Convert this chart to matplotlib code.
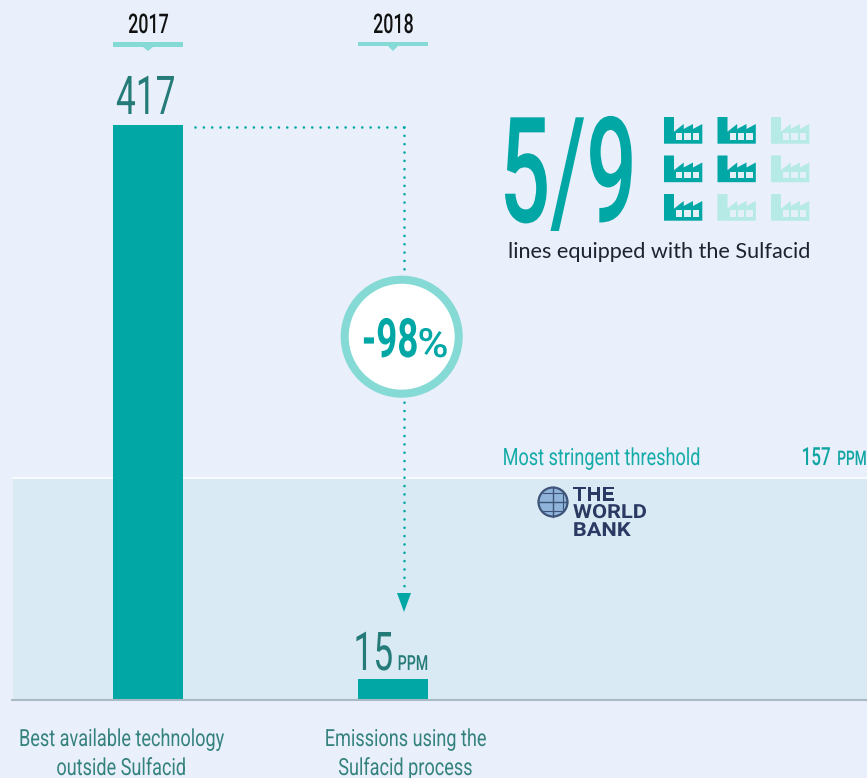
import matplotlib
matplotlib.use('Agg')
import matplotlib.pyplot as plt
import matplotlib.patheffects as pe
from matplotlib.patches import Circle, Polygon, Rectangle
from matplotlib.transforms import Affine2D

# Data
years = ['2017', '2018']
emissions = [417, 15]
bar_labels = ['Best available technology\noutside Sulfacid', 'Emissions using the\nSulfacid process']
threshold_ppm = 157
band_top = 161  # the band sits a little above its label value in the source
reduction = '-98'
lines_equipped = 5
lines_total = 9

# Colours
BG = '#E9EFFB'
BAND = '#DAEAF5'
TEAL = '#00A7A5'
LIGHT = '#85DAD5'
PALE = '#B5EAE6'
DARK = '#257B78'
LABEL = '#34827E'

plt.rcParams['font.family'] = ['Roboto', 'DejaVu Sans']


# No condensed DIN here, so change the glyph width when the text is drawn
class Squeeze(pe.AbstractPathEffect):
    def __init__(self, sx, anchor='center'):
        super().__init__()
        self.sx = sx
        self.anchor = anchor

    def draw_path(self, renderer, gc, tpath, affine, rgbFace=None):
        box = affine.transform_path(tpath).get_extents()
        cx = box.x0 if self.anchor == 'left' else (box.x0 + box.x1) / 2
        squeeze = Affine2D().translate(-cx, 0).scale(self.sx, 1).translate(cx, 0)
        renderer.draw_path(gc, tpath, affine + squeeze, rgbFace)


fig = plt.figure(figsize=(8.67, 7.78), dpi=100, facecolor=BG)

# Bars live on a ppm axis, baseline at pixel 700 and 417 at pixel 125
px_per_ppm = (700 - 125) / emissions[0]
ax = fig.add_axes([0, 0, 1, 1], facecolor=BG)
ax.set_xlim(0, 867)
ax.set_ylim(-(778 - 700) / px_per_ppm, 700 / px_per_ppm)
ax.axis('off')
ax.fill_between([13, 867], 0, band_top, color=BAND, lw=0, zorder=1)
ax.plot([13, 867], [band_top, band_top], color='white', lw=1.1, zorder=2)
ax.bar([148, 393], emissions, width=70, color=TEAL, zorder=3)
ax.plot([12, 867], [0, 0], color='#A9BAC4', lw=1.5, zorder=4)

# Everything else is placed in pixel coordinates of the picture
ov = fig.add_axes([0, 0, 1, 1], facecolor='none')
ov.set_xlim(0, 867)
ov.set_ylim(778, 0)
ov.axis('off')


def label(x, y, s, size, color, sx=0.68, weight='normal'):
    t = ov.text(x, y, s, fontsize=size, color=color, ha='center', va='baseline', fontweight=weight)
    if sx != 1:
        t.set_path_effects([Squeeze(sx)])
    return t


# Year headers with their little tabs
for x, year, y1 in zip([148, 393], years, [47, 46]):
    label(x + 0.5, 33, year, 19.5, '#111111', sx=0.66, weight='medium')
    ov.add_patch(Rectangle((x - 35, 42), 70, y1 - 42, color=LIGHT, lw=0))
    ov.add_patch(Polygon([(x - 5, y1), (x + 5, y1), (x, 51)], color=LIGHT, lw=0))

# Values
label(146, 114, str(emissions[0]), 38.5, DARK, sx=0.66)
label(373, 670, str(emissions[1]), 38.5, DARK, sx=0.66)
label(413, 670, 'PPM', 15, DARK, sx=0.68, weight='medium')

# Bar captions
for x, text in zip([121.5, 405.5], bar_labels):
    first, second = text.split('\n')
    label(x, 746, first, 17, LABEL, sx=0.767)
    label(x, 775, second, 17, LABEL, sx=0.767)

# Dotted route from the tall bar down to the small one
dots = (0, (0.01, 3.15))
ov.plot([195, 404], [126.5, 126.5], color=TEAL, lw=1.9, ls=dots, dash_capstyle='round')
ov.plot([404, 404], [127, 596], color=TEAL, lw=1.9, ls=dots, dash_capstyle='round')
ov.add_patch(Polygon([(397, 593), (411, 593), (404, 612)], color=TEAL, lw=0))

# Reduction badge
ov.add_patch(Circle((401.7, 336.7), 57, facecolor='white', edgecolor=LIGHT, lw=5.8, zorder=5))
t = label(390, 357, reduction, 39, TEAL, sx=0.68, weight='bold')
t.set_zorder(6)
t = label(433, 357, '%', 29, TEAL, sx=1.05, weight='medium')
t.set_zorder(6)

# 5/9 block
label(568, 222, '%d/%d' % (lines_equipped, lines_total), 106, TEAL, sx=0.61, weight='medium')
t = label(659, 258, 'lines equipped with the Sulfacid', 15.6, '#1C2430', sx=1)
t.set_family(['Lato', 'DejaVu Sans'])

outline = [(0, 0), (10, 0), (10, 14.7), (19.7, 7), (19.7, 12), (29, 7), (29, 12),
           (38.3, 7), (38.3, 26.7), (0, 26.7)]
windows = [(12, 18.3), (20.3, 26.7), (28.7, 35.3)]
col_x = [664, 717.5, 771]
row_y = [117, 155.5, 194]
for r, oy in enumerate(row_y):
    for c, ox in enumerate(col_x):
        # filled column by column: 3, then 2, then none
        filled = (c * 3 + r) < lines_equipped
        ov.add_patch(Polygon([(ox + px, oy + py) for px, py in outline],
                             color=TEAL if filled else PALE, lw=0))
        for x0, x1 in windows:
            ov.add_patch(Rectangle((ox + x0, oy + 16), x1 - x0, 6.7, color='#E3F0F8', lw=0))

# Threshold labels and logo
label(601.5, 465, 'Most stringent threshold', 17, '#14ABA8', sx=0.767)
label(816, 465, str(threshold_ppm), 18, '#0FA5A2', sx=0.68, weight='medium')
label(852, 465, 'PPM', 14.5, '#0FA5A2', sx=0.68, weight='medium')

ov.add_patch(Circle((553, 502), 14.5, facecolor='#8FB3D9', edgecolor='#3E5478', lw=1.6))
ov.plot([553, 553], [487.5, 516.5], color='#3E5478', lw=1)
ov.plot([539, 567], [502, 502], color='#3E5478', lw=1)
ov.plot([543, 563, 563, 543], [493, 493, 511, 511], color='#3E5478', lw=0.8)
for y, word in zip([500.7, 518, 536], ['THE', 'WORLD', 'BANK']):
    t = ov.text(573, y, word, fontsize=14, color='#2B3A63', fontweight='bold', ha='left', va='baseline')
    t.set_path_effects([Squeeze(1.12, anchor='left')])

fig.savefig('out.png', dpi=100, facecolor=BG)
